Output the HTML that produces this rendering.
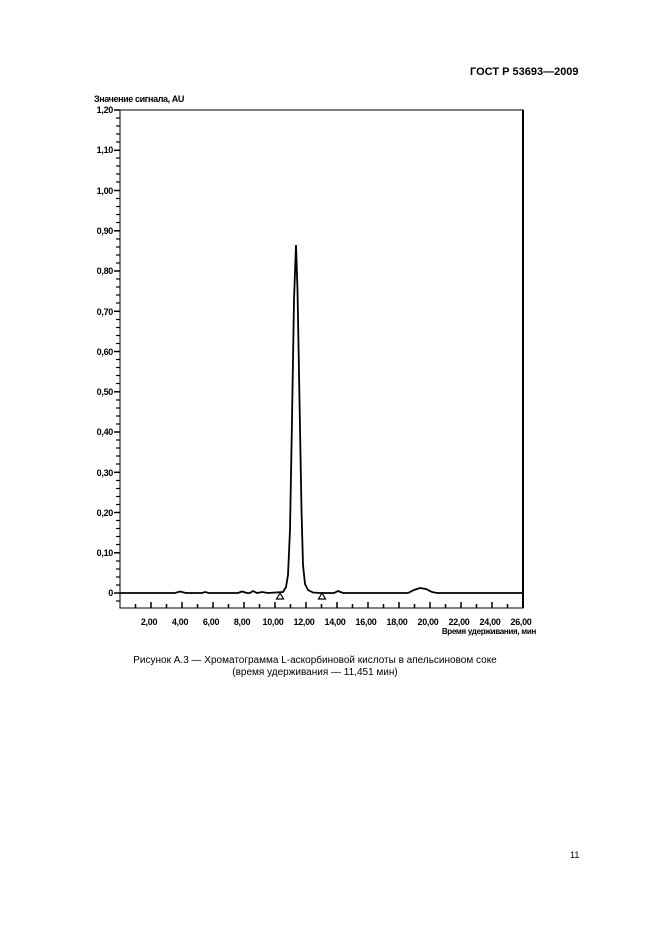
<!DOCTYPE html>
<html><head><meta charset="utf-8"><style>
html,body{margin:0;padding:0;background:#fff;}
body{width:661px;height:936px;position:relative;overflow:hidden;font-family:"Liberation Sans",sans-serif;}
.t{position:absolute;white-space:nowrap;}
</style></head><body>
<div class="t" style="left:470px;top:66px;font-size:11px;font-weight:bold;">ГОСТ Р 53693—2009</div>
<svg width="661" height="936" style="position:absolute;left:0;top:0" font-family="Liberation Sans, sans-serif">
<text x="94" y="102" font-size="9" font-weight="bold" letter-spacing="-0.4">Значение сигнала, AU</text>
<rect x="120" y="110" width="403" height="498" fill="none" stroke="#000" stroke-width="1"/>
<line x1="523" y1="110" x2="523" y2="608" stroke="#000" stroke-width="2"/>
<g stroke="#000" stroke-width="1.5">
<line x1="114" y1="110" x2="120" y2="110"/><line x1="114" y1="150.3" x2="120" y2="150.3"/><line x1="114" y1="190.5" x2="120" y2="190.5"/><line x1="114" y1="230.8" x2="120" y2="230.8"/><line x1="114" y1="271" x2="120" y2="271"/><line x1="114" y1="311.3" x2="120" y2="311.3"/><line x1="114" y1="351.5" x2="120" y2="351.5"/><line x1="114" y1="391.8" x2="120" y2="391.8"/><line x1="114" y1="432" x2="120" y2="432"/><line x1="114" y1="472.3" x2="120" y2="472.3"/><line x1="114" y1="512.5" x2="120" y2="512.5"/><line x1="114" y1="552.8" x2="120" y2="552.8"/><line x1="114" y1="593" x2="120" y2="593"/>
</g>
<g stroke="#000" stroke-width="1.2">
<line x1="116" y1="118" x2="120" y2="118"/><line x1="116" y1="126" x2="120" y2="126"/><line x1="116" y1="134" x2="120" y2="134"/><line x1="116" y1="142" x2="120" y2="142"/>
<line x1="116" y1="158" x2="120" y2="158"/><line x1="116" y1="166" x2="120" y2="166"/><line x1="116" y1="174" x2="120" y2="174"/><line x1="116" y1="182" x2="120" y2="182"/>
<line x1="116" y1="198.5" x2="120" y2="198.5"/><line x1="116" y1="206.5" x2="120" y2="206.5"/><line x1="116" y1="214.5" x2="120" y2="214.5"/><line x1="116" y1="222.5" x2="120" y2="222.5"/>
<line x1="116" y1="239" x2="120" y2="239"/><line x1="116" y1="247" x2="120" y2="247"/><line x1="116" y1="255" x2="120" y2="255"/><line x1="116" y1="263" x2="120" y2="263"/>
<line x1="116" y1="279" x2="120" y2="279"/><line x1="116" y1="287" x2="120" y2="287"/><line x1="116" y1="295" x2="120" y2="295"/><line x1="116" y1="303" x2="120" y2="303"/>
<line x1="116" y1="319.5" x2="120" y2="319.5"/><line x1="116" y1="327.5" x2="120" y2="327.5"/><line x1="116" y1="335.5" x2="120" y2="335.5"/><line x1="116" y1="343.5" x2="120" y2="343.5"/>
<line x1="116" y1="359.5" x2="120" y2="359.5"/><line x1="116" y1="367.5" x2="120" y2="367.5"/><line x1="116" y1="375.5" x2="120" y2="375.5"/><line x1="116" y1="383.5" x2="120" y2="383.5"/>
<line x1="116" y1="400" x2="120" y2="400"/><line x1="116" y1="408" x2="120" y2="408"/><line x1="116" y1="416" x2="120" y2="416"/><line x1="116" y1="424" x2="120" y2="424"/>
<line x1="116" y1="440" x2="120" y2="440"/><line x1="116" y1="448" x2="120" y2="448"/><line x1="116" y1="456" x2="120" y2="456"/><line x1="116" y1="464" x2="120" y2="464"/>
<line x1="116" y1="480.5" x2="120" y2="480.5"/><line x1="116" y1="488.5" x2="120" y2="488.5"/><line x1="116" y1="496.5" x2="120" y2="496.5"/><line x1="116" y1="504.5" x2="120" y2="504.5"/>
<line x1="116" y1="520.5" x2="120" y2="520.5"/><line x1="116" y1="528.5" x2="120" y2="528.5"/><line x1="116" y1="536.5" x2="120" y2="536.5"/><line x1="116" y1="544.5" x2="120" y2="544.5"/>
<line x1="116" y1="561" x2="120" y2="561"/><line x1="116" y1="569" x2="120" y2="569"/><line x1="116" y1="577" x2="120" y2="577"/><line x1="116" y1="585" x2="120" y2="585"/>
<line x1="116" y1="601" x2="120" y2="601"/>
</g>
<g font-size="9" font-weight="bold" text-anchor="end" letter-spacing="-0.3">
<text x="113" y="113">1,20</text><text x="113" y="153">1,10</text><text x="113" y="194">1,00</text><text x="113" y="234">0,90</text><text x="113" y="274">0,80</text><text x="113" y="315">0,70</text><text x="113" y="355">0,60</text><text x="113" y="395">0,50</text><text x="113" y="435">0,40</text><text x="113" y="476">0,30</text><text x="113" y="516">0,20</text><text x="113" y="556">0,10</text><text x="113" y="596">0</text>
</g>
<g stroke="#000" stroke-width="1.5">
<line x1="135.5" y1="608" x2="135.5" y2="604"/><line x1="151" y1="608" x2="151" y2="602"/><line x1="166.5" y1="608" x2="166.5" y2="604"/><line x1="182" y1="608" x2="182" y2="602"/><line x1="197.5" y1="608" x2="197.5" y2="604"/><line x1="213" y1="608" x2="213" y2="602"/><line x1="228.5" y1="608" x2="228.5" y2="604"/><line x1="244" y1="608" x2="244" y2="602"/><line x1="259.5" y1="608" x2="259.5" y2="604"/><line x1="275" y1="608" x2="275" y2="602"/><line x1="290.5" y1="608" x2="290.5" y2="604"/><line x1="306" y1="608" x2="306" y2="602"/><line x1="321.5" y1="608" x2="321.5" y2="604"/><line x1="337" y1="608" x2="337" y2="602"/><line x1="352.5" y1="608" x2="352.5" y2="604"/><line x1="368" y1="608" x2="368" y2="602"/><line x1="383.5" y1="608" x2="383.5" y2="604"/><line x1="399" y1="608" x2="399" y2="602"/><line x1="414.5" y1="608" x2="414.5" y2="604"/><line x1="430" y1="608" x2="430" y2="602"/><line x1="445.5" y1="608" x2="445.5" y2="604"/><line x1="461" y1="608" x2="461" y2="602"/><line x1="476.5" y1="608" x2="476.5" y2="604"/><line x1="492" y1="608" x2="492" y2="602"/><line x1="507.5" y1="608" x2="507.5" y2="604"/>
</g>
<g font-size="9" font-weight="bold" text-anchor="middle" letter-spacing="-0.3">
<text x="149" y="625">2,00</text><text x="180" y="625">4,00</text><text x="211" y="625">6,00</text><text x="242" y="625">8,00</text><text x="273" y="625">10,00</text><text x="304" y="625">12,00</text><text x="335" y="625">14,00</text><text x="366" y="625">16,00</text><text x="397" y="625">18,00</text><text x="428" y="625">20,00</text><text x="459" y="625">22,00</text><text x="490" y="625">24,00</text><text x="521" y="625">26,00</text>
</g>
<text x="536" y="634" font-size="8" font-weight="bold" text-anchor="end" letter-spacing="-0.3">Время удерживания, мин</text>
<path d="M120,593 L175,593 L180,591.5 L186,593 L202,593 L205,592 L209,593 L238,593 L242,591.5 L247,593 L250,593 L253,591 L257,593 L262,592 L268,593 L283,592 L286,587 L288,575 L290,530 L292,420 L294,300 L296,245 L297.5,290 L299.5,400 L301.5,510 L303,565 L305,584 L308,590 L313,592.5 L320,593 L334,593 L338,591 L343,593 L408,593 L414,590 L420,588 L426,589 L432,592 L437,593 L523,593" fill="none" stroke="#000" stroke-width="1.8"/>
<path d="M280,593 L276.5,599 L283.5,599 Z M322,593 L318.5,599 L325.5,599 Z" fill="none" stroke="#000" stroke-width="1.2"/>
<text x="315" y="663" font-size="10" text-anchor="middle">Рисунок А.3 — Хроматограмма L-аскорбиновой кислоты в апельсиновом соке</text>
<text x="315" y="675" font-size="10" text-anchor="middle">(время удерживания — 11,451 мин)</text>
<text x="570" y="858" font-size="9">11</text>
</svg>
</body></html>
